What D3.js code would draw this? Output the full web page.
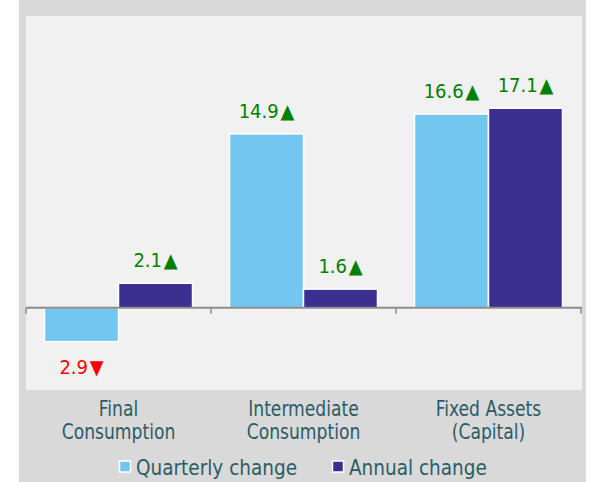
<!DOCTYPE html>
<html><head><meta charset="utf-8">
<script src="https://cdn.jsdelivr.net/npm/d3@7"></script>
<style>html,body{margin:0;padding:0;background:#fff;}svg{display:block;}</style>
</head><body>
<script>
const categories = [["Final","Consumption"],["Intermediate","Consumption"],["Fixed Assets","(Capital)"]];
const seriesNames = ["Quarterly change","Annual change"];
const quarterly = [-2.9, 14.9, 16.6];
const annual = [2.1, 1.6, 17.1];
const colors = ["#73c6ef","#3b2f8f"];

const W = 597, H = 482;
const svg = d3.select("body").append("svg").attr("width", W).attr("height", H);

svg.append("rect").attr("x",19).attr("y",0).attr("width",567).attr("height",H).attr("fill","#d9d9d9");
svg.append("rect").attr("x",26).attr("y",16).attr("width",556).attr("height",374).attr("fill","#f1f1f1");

const x0 = d3.scaleBand().domain(d3.range(categories.length)).range([26, 581]).paddingInner(0).paddingOuter(0);
const x1 = d3.scaleBand().domain([0,1]).range([0, x0.bandwidth()]).paddingOuter(0.25).paddingInner(0);
const y = d3.scaleLinear().domain([-7, 25]).range([389.5, 16]);

const series = [quarterly, annual];
const data = [];
categories.forEach((c,i)=>series.forEach((s,j)=>data.push({i,j,v:s[i]})));

const g = svg.append("g");
g.selectAll("rect.bar").data(data).join("rect")
  .attr("class","bar")
  .attr("x", d => x0(d.i) + x1(d.j))
  .attr("width", x1.bandwidth())
  .attr("y", d => y(Math.max(0,d.v)))
  .attr("height", d => Math.abs(y(d.v) - y(0)))
  .attr("fill", d => colors[d.j])
  .attr("stroke","#fff").attr("stroke-width",1.5);

// axis
const ax = svg.append("g").attr("transform",`translate(0,${y(0)})`);
ax.append("line").attr("x1",26).attr("x2",582).attr("y1",0).attr("y2",0).attr("stroke","#8c8c8c").attr("stroke-width",2);
const tickPos = d3.range(categories.length+1).map(i => i < categories.length ? x0(i) : x0(i-1)+x0.bandwidth());
ax.selectAll("line.tick").data(tickPos).join("line").attr("class","tick")
  .attr("x1",d=>d).attr("x2",d=>d).attr("y1",0).attr("y2",6)
  .attr("stroke","#8c8c8c").attr("stroke-width",1.5);

// value labels
const lab = g.selectAll("text.val").data(data).join("text").attr("class","val")
  .attr("transform", d => `translate(${x0(d.i) + x1(d.j) + x1.bandwidth()/2},${d.v >= 0 ? y(d.v) - 16 : y(d.v) + 32}) scale(0.9,1)`)
  .attr("text-anchor","middle")
  .attr("font-family","DejaVu Sans")
  .attr("font-size",20)
  .attr("fill", d => d.v >= 0 ? "#008000" : "#ff0000");
lab.append("tspan").text(d => Math.abs(d.v).toFixed(1));
lab.append("tspan").attr("dx",2).text(d => d.v >= 0 ? "\u25B2" : "\u25BC");

// category labels
categories.forEach((lines,i) => {
  lines.forEach((t,k) => {
    svg.append("text")
      .attr("transform",`translate(${x0(i) + x0.bandwidth()/2},${416 + k*23}) scale(0.93,1)`)
      .attr("text-anchor","middle")
      .attr("font-family","DejaVu Sans Condensed, DejaVu Sans")
      .attr("font-stretch","condensed")
      .attr("font-size",20.5)
      .attr("fill","#2b5c66")
      .text(t);
  });
});

// legend
const legX = [119, 332];
const leg = svg.selectAll("g.leg").data(seriesNames).join("g").attr("class","leg")
  .attr("transform",(d,i)=>`translate(${legX[i]},0)`);
leg.append("rect").attr("x",0.5).attr("y",461).attr("width",11).attr("height",11)
  .attr("fill",(d,i)=>colors[i]).attr("stroke","#fff").attr("stroke-width",1.5);
leg.append("text").attr("x",17).attr("y",474.5)
  .attr("font-family","DejaVu Sans Condensed, DejaVu Sans")
  .attr("font-stretch","condensed")
  .attr("font-size",20.5).attr("fill","#2b5c66").text(d=>d);
</script>
</body></html>
